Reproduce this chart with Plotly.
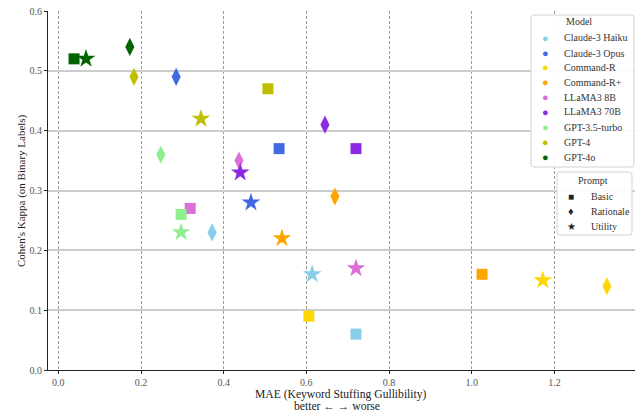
import plotly.graph_objects as go

models = ["Claude-3 Haiku", "Claude-3 Opus", "Command-R", "Command-R+", "LLaMA3 8B",
          "LLaMA3 70B", "GPT-3.5-turbo", "GPT-4", "GPT-4o"]
colors = ["#87CEEB", "#4169E1", "#FFD700", "#FFA500", "#DA70D6",
          "#8A2BE2", "#90EE90", "#BFBF00", "#006400"]
prompts = ["Basic", "Rationale", "Utility"]
symbols = ["square", "diamond-tall", "star"]
legend_glyphs = ["■", "♦", "★"]

# MAE (x) and Cohen's Kappa (y) per model for each prompt
basic_x = [0.72, 0.534, 0.606, 1.025, 0.319, 0.72, 0.297, 0.507, 0.038]
basic_y = [0.06, 0.37, 0.09, 0.16, 0.27, 0.37, 0.26, 0.47, 0.52]
rationale_x = [0.372, 0.285, 1.327, 0.669, 0.437, 0.645, 0.248, 0.183, 0.173]
rationale_y = [0.23, 0.49, 0.14, 0.29, 0.35, 0.41, 0.36, 0.49, 0.54]
utility_x = [0.614, 0.466, 1.172, 0.541, 0.72, 0.44, 0.297, 0.345, 0.067]
utility_y = [0.16, 0.28, 0.15, 0.22, 0.17, 0.33, 0.23, 0.42, 0.52]

xs = [basic_x, rationale_x, utility_x]
ys = [basic_y, rationale_y, utility_y]
sizes = [11, 13, 14]

FONT = "Liberation Serif"
W, H = 641, 412
ML, MR, MT, MB = 48, 6, 11, 42
PW, PH = W - ML - MR, H - MT - MB


def px(x):
    return (x - ML) / PW


def py(y):
    return (H - MB - y) / PH


fig = go.Figure()
for p, sym, sz, X, Y in zip(prompts, symbols, sizes, xs, ys):
    fig.add_trace(go.Scatter(
        x=X, y=Y, mode="markers", showlegend=False,
        marker=dict(symbol=sym, size=sz, color=colors, line=dict(width=0)),
        hovertext=models, name=p))

shapes = []
annotations = []


def rounded_box(x0, y0, x1, y1, r=3):
    X0, X1 = px(x0), px(x1)
    Y0, Y1 = py(y0), py(y1)
    rx, ry = r / PW, r / PH
    path = (f"M {X0+rx},{Y0} L {X1-rx},{Y0} Q {X1},{Y0} {X1},{Y0-ry} "
            f"L {X1},{Y1+ry} Q {X1},{Y1} {X1-rx},{Y1} L {X0+rx},{Y1} "
            f"Q {X0},{Y1} {X0},{Y1+ry} L {X0},{Y0-ry} Q {X0},{Y0} {X0+rx},{Y0} Z")
    return dict(type="path", path=path, xref="paper", yref="paper",
                fillcolor="rgba(255,255,255,0.92)", line=dict(color="#d3d3d3", width=1),
                layer="above")


def text(x, y, s, color="#333", size=10, xanchor="left", angle=0):
    return dict(x=px(x), y=py(y), xref="paper", yref="paper", text=s, showarrow=False,
                xanchor=xanchor, yanchor="middle", textangle=angle,
                font=dict(family=FONT, size=size, color=color))


# Model legend
shapes.append(rounded_box(531, 15, 634, 167))
annotations.append(text(579, 22, "Model", xanchor="center"))
model_rows = [38, 53, 67, 82, 97, 112, 127, 142, 157]
for m, c, yy in zip(models, colors, model_rows):
    annotations.append(text(545, yy, "●", color=c, size=11, xanchor="center"))
    annotations.append(text(562, yy, m))

# Prompt legend
shapes.append(rounded_box(557, 172, 632, 235))
annotations.append(text(593, 180, "Prompt", xanchor="center"))
prompt_rows = [196, 211, 226]
glyph_sizes = [10, 11, 10]
for p, g, gs, yy in zip(prompts, legend_glyphs, glyph_sizes, prompt_rows):
    annotations.append(text(571, yy, g, color="#222", size=gs, xanchor="center"))
    annotations.append(text(589, yy, p))

# Axis titles
annotations.append(text(341, 394, "MAE (Keyword Stuffing Gullibility)", color="#222",
                        size=11.6, xanchor="center"))
annotations.append(text(337, 406, "better ← → worse", color="#222", size=11.6,
                        xanchor="center"))
annotations.append(text(21, 191, "Cohen's Kappa (on Binary Labels)", color="#222",
                        size=11, xanchor="center", angle=-90))

fig.update_layout(
    width=W, height=H,
    margin=dict(l=ML, r=MR, t=MT, b=MB),
    plot_bgcolor="white", paper_bgcolor="white", showlegend=False,
    font=dict(family=FONT, size=10, color="#333"),
    shapes=shapes, annotations=annotations,
    xaxis=dict(range=[-0.025, 1.395], tickvals=[0, 0.2, 0.4, 0.6, 0.8, 1.0, 1.2],
               ticktext=["0.0", "0.2", "0.4", "0.6", "0.8", "1.0", "1.2"],
               showgrid=True, gridcolor="#9a9a9a", griddash="3px,2px", gridwidth=1,
               showline=True, linecolor="#222", linewidth=1.2, zeroline=False,
               ticks="outside", ticklen=3, tickcolor="#222", automargin=False,
               tickfont=dict(family=FONT, size=10, color="#555")),
    yaxis=dict(range=[0, 0.6], tickvals=[0, 0.1, 0.2, 0.3, 0.4, 0.5, 0.6],
               ticktext=["0.0", "0.1", "0.2", "0.3", "0.4", "0.5", "0.6"],
               showgrid=True, gridcolor="#cccccc", gridwidth=1.5,
               showline=True, linecolor="#222", linewidth=1.2, zeroline=False,
               ticks="outside", ticklen=3, tickcolor="#222", automargin=False,
               tickfont=dict(family=FONT, size=10, color="#555")),
)

fig.write_html("out.html")
